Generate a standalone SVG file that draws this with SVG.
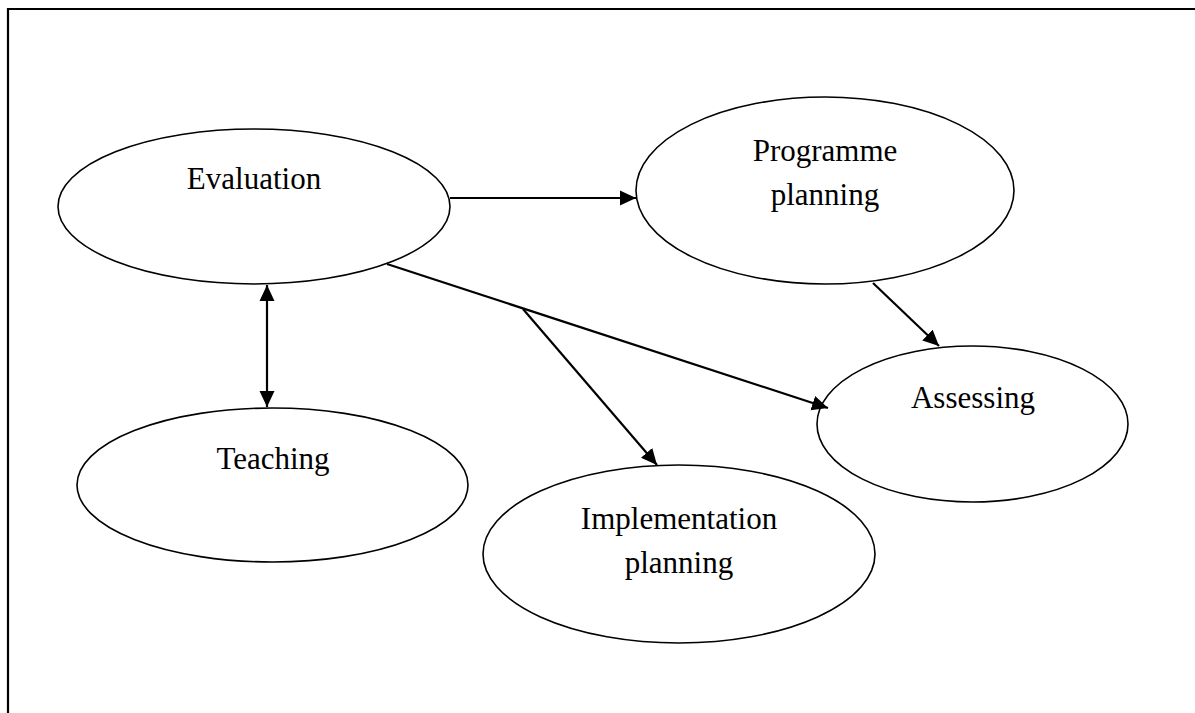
<svg xmlns="http://www.w3.org/2000/svg" width="1195" height="713" viewBox="0 0 1195 713">
<style>
.node ellipse{fill:#fff;stroke:#000;stroke-width:1.6}
.node text{font-family:"Liberation Serif","Times New Roman",serif;font-size:31px;fill:#000;text-anchor:middle}
.conn line{stroke:#000;stroke-width:2.2}
.frame{stroke:#000;stroke-width:2.2;fill:none}
</style>
<defs>
<marker id="ah" markerUnits="userSpaceOnUse" markerWidth="16" markerHeight="16" viewBox="0 0 16 16" refX="16" refY="8" orient="auto-start-reverse">
<path d="M0,0.5 L16,8 L0,15.5 Z" fill="#000"/>
</marker>
</defs>
<rect width="1195" height="713" fill="#fff"/>
<path class="frame" d="M8,713 L8,9 L1195,9"/>
<g id="evaluation" class="node">
<ellipse cx="254" cy="206.5" rx="196" ry="77.5"/>
<text x="254" y="189">Evaluation</text>
</g>
<g id="programme-planning" class="node">
<ellipse cx="825" cy="190.5" rx="189" ry="93.5"/>
<text x="825" y="161">Programme</text>
<text x="825" y="205">planning</text>
</g>
<g id="assessing" class="node">
<ellipse cx="972.5" cy="424" rx="155.5" ry="78"/>
<text x="973" y="408">Assessing</text>
</g>
<g id="teaching" class="node">
<ellipse cx="272.5" cy="485" rx="195.5" ry="77"/>
<text x="273" y="469">Teaching</text>
</g>
<g id="implementation-planning" class="node">
<ellipse cx="679" cy="554" rx="196" ry="89"/>
<text x="679" y="529">Implementation</text>
<text x="679" y="573">planning</text>
</g>
<g id="connectors" class="conn">
<line x1="450" y1="198" x2="636" y2="198" marker-end="url(#ah)"/>
<line x1="267" y1="285" x2="267" y2="407" marker-start="url(#ah)" marker-end="url(#ah)"/>
<line x1="387" y1="264" x2="828" y2="408" marker-end="url(#ah)"/>
<line x1="523" y1="309" x2="657" y2="465" marker-end="url(#ah)"/>
<line x1="873" y1="283" x2="939" y2="346" marker-end="url(#ah)"/>
</g>
</svg>
